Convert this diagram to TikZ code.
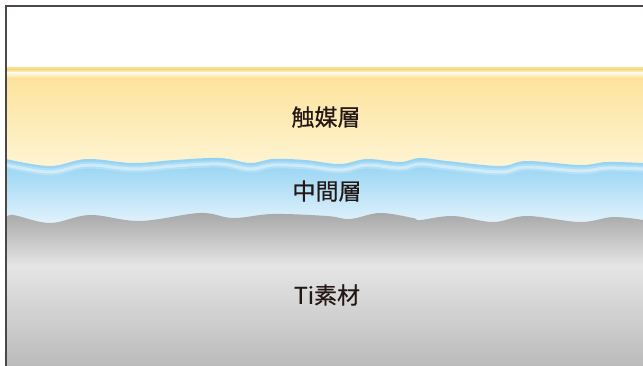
\documentclass[tikz,border=0pt]{standalone}
\usepackage{fontspec}
\newfontfamily\cjk[FakeBold=0.5]{Noto Sans CJK JP}
\definecolor{yband}{HTML}{F9DF90}
\definecolor{ystripe}{HTML}{FFFBEA}
\definecolor{ytop}{HTML}{FDE39D}
\definecolor{ybot}{HTML}{FEF6D8}
\definecolor{btop}{HTML}{8DD0F2}
\definecolor{bbot}{HTML}{E0F2FC}
\definecolor{gtop}{HTML}{A6A6A6}
\definecolor{gmid}{HTML}{E5E5E5}
\definecolor{gbot}{HTML}{BBBBBB}
\definecolor{framec}{HTML}{4D4846}
\definecolor{txt}{HTML}{231815}
\tikzset{lbl/.style={font=\cjk\fontsize{23}{26}\selectfont, text=txt, inner sep=0pt}}
\begin{document}
\begin{tikzpicture}[x=1pt,y=1pt]
\useasboundingbox (0,0) rectangle (643,-365);
% yellow catalyst layer
\fill[yband] (6,-67) rectangle (643,-70);
\shade[top color=yband, bottom color=ystripe] (6,-69.9) rectangle (643,-72.5);
\shade[top color=ystripe, bottom color=ytop] (6,-72.4) rectangle (643,-78);
\shade[top color=ytop, bottom color=ybot] (6,-77.9) rectangle (643,-175);
% blue intermediate layer
\begin{scope}
\clip plot[smooth, tension=0.6] coordinates {(6,-159) (50,-166) (87,-159) (133,-163) (175,-160) (220,-158) (250,-163) (273,-159) (305,-160) (340,-164) (367,-159) (400,-162) (420,-158) (447,-161) (500,-166) (527,-161) (580,-165) (607,-162) (643,-163)} -- (643,-240) -- (6,-240) -- cycle;
\shade[top color=btop, bottom color=bbot] (6,-155) rectangle (643,-222);
\fill[bbot] (6,-221.9) rectangle (643,-240);
\draw[white, opacity=0.2, line width=7pt, yshift=-6pt] plot[smooth, tension=0.6] coordinates {(6,-159) (50,-166) (87,-159) (133,-163) (175,-160) (220,-158) (250,-163) (273,-159) (305,-160) (340,-164) (367,-159) (400,-162) (420,-158) (447,-161) (500,-166) (527,-161) (580,-165) (607,-162) (643,-163)};
\draw[white, opacity=0.4, line width=3pt, yshift=-6pt] plot[smooth, tension=0.6] coordinates {(6,-159) (50,-166) (87,-159) (133,-163) (175,-160) (220,-158) (250,-163) (273,-159) (305,-160) (340,-164) (367,-159) (400,-162) (420,-158) (447,-161) (500,-166) (527,-161) (580,-165) (607,-162) (643,-163)};
\end{scope}
% gray Ti substrate
\begin{scope}
\clip (6,-220) plot[smooth, tension=0.6] coordinates {(6,-219) (13,-215) (50,-223) (90,-215) (140,-221) (200,-213) (233,-218) (273,-214) (327,-216) (350,-219) (380,-213) (413,-218) (420,-220) (453,-216) (493,-222) (527,-216) (580,-222) (613,-217) (643,-220)} -- (643,-366) -- (6,-366) -- cycle;
\shade[top color=gtop, bottom color=gmid] (6,-211) rectangle (643,-266);
\shade[top color=gmid, bottom color=gbot] (6,-265.9) rectangle (643,-366);
\end{scope}
% frame
\draw[framec, line width=1.3pt] (6,-366) -- (6,-6) -- (643,-6);
% labels
\node[lbl] (cat) at (326,-117) {触媒層};
\node[lbl] (mid) at (327,-191) {中間層};
\node[lbl] (ti) at (327,-295) {Ti素材};
\end{tikzpicture}
\end{document}
